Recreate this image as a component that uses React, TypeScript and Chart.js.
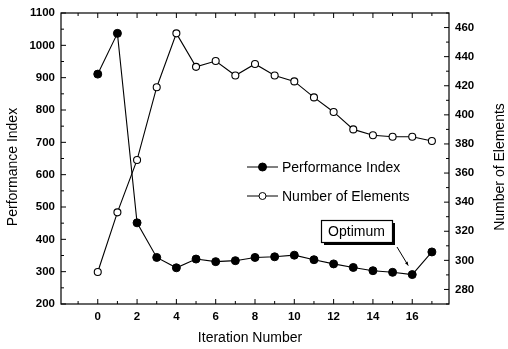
import React, { useEffect, useRef } from "react";
import { Chart, registerables } from "chart.js";

Chart.register(...registerables);

const iterations = [0, 1, 2, 3, 4, 5, 6, 7, 8, 9, 10, 11, 12, 13, 14, 15, 16, 17];
const performanceIndex = [911, 1037, 451, 344, 312, 339, 331, 334, 344, 346, 351, 337, 324, 313, 303, 298, 291, 361];
const numberOfElements = [292, 333, 369, 419, 456, 433, 437, 427, 435, 427, 423, 412, 402, 390, 386, 385, 385, 382];
const xTickValues = [0, 2, 4, 6, 8, 10, 12, 14, 16];
const xMinorValues = [-1, 1, 3, 5, 7, 9, 11, 13, 15, 17];
const leftTickValues = [200, 300, 400, 500, 600, 700, 800, 900, 1000, 1100];
const leftMinorValues = [250, 350, 450, 550, 650, 750, 850, 950, 1050];
const rightTickValues = [280, 300, 320, 340, 360, 380, 400, 420, 440, 460];
const rightMinorValues = [270, 290, 310, 330, 350, 370, 390, 410, 430, 450, 470];
const seriesNames = ["Performance Index", "Number of Elements"];
const axisTitles = { x: "Iteration Number", left: "Performance Index", right: "Number of Elements" };
const annotationText = "Optimum";
const optimumIndex = 16;

const FONT = "'Liberation Sans', Arial, Helvetica, sans-serif";

const framePlugin = {
  id: "frameAndExtras",
  afterDraw(chart: any) {
    const ctx = chart.ctx as CanvasRenderingContext2D;
    const { left, right, top, bottom } = chart.chartArea;
    const xs = chart.scales.x;
    const ys = chart.scales.y;
    const y2 = chart.scales.y2;
    ctx.save();
    ctx.strokeStyle = "#000";
    ctx.lineWidth = 1.2;
    ctx.strokeRect(left, top, right - left, bottom - top);
    const major = 5;
    const minor = 3;
    ctx.lineWidth = 1;
    ctx.beginPath();
    const hTick = (v: number, len: number) => {
      const px = xs.getPixelForValue(v);
      ctx.moveTo(px, bottom);
      ctx.lineTo(px, bottom - len);
      ctx.moveTo(px, top);
      ctx.lineTo(px, top + len);
    };
    xTickValues.forEach((v) => hTick(v, major));
    xMinorValues.forEach((v) => hTick(v, minor));
    leftTickValues.forEach((v) => {
      const py = ys.getPixelForValue(v);
      ctx.moveTo(left, py);
      ctx.lineTo(left + major, py);
    });
    leftMinorValues.forEach((v) => {
      const py = ys.getPixelForValue(v);
      ctx.moveTo(left, py);
      ctx.lineTo(left + minor, py);
    });
    rightTickValues.forEach((v) => {
      const py = y2.getPixelForValue(v);
      ctx.moveTo(right, py);
      ctx.lineTo(right - major, py);
    });
    rightMinorValues.forEach((v) => {
      const py = y2.getPixelForValue(v);
      ctx.moveTo(right, py);
      ctx.lineTo(right - minor, py);
    });
    ctx.stroke();

    // Axis titles
    ctx.fillStyle = "#000";
    ctx.font = `14px ${FONT}`;
    ctx.textAlign = "center";
    ctx.textBaseline = "middle";
    ctx.fillText(axisTitles.x, left + 189, 338);
    ctx.save();
    ctx.translate(13, top + 154);
    ctx.rotate(-Math.PI / 2);
    ctx.fillText(axisTitles.left, 0, 0);
    ctx.restore();
    ctx.save();
    ctx.translate(500, top + 154);
    ctx.rotate(-Math.PI / 2);
    ctx.fillText(axisTitles.right, 0, 0);
    ctx.restore();

    // Legend
    const lx0 = left + 186;
    const lx1 = left + 217;
    const lmx = (lx0 + lx1) / 2;
    const rows = [top + 154, top + 183];
    ctx.font = `14px ${FONT}`;
    ctx.textBaseline = "middle";
    ctx.textAlign = "left";
    rows.forEach((ry, i) => {
      ctx.beginPath();
      ctx.moveTo(lx0, ry);
      ctx.lineTo(lx1, ry);
      ctx.lineWidth = 1;
      ctx.stroke();
      ctx.beginPath();
      ctx.arc(lmx, ry, i === 0 ? 4 : 3.5, 0, Math.PI * 2);
      ctx.fillStyle = i === 0 ? "#000" : "#fff";
      ctx.fill();
      ctx.stroke();
      ctx.fillStyle = "#000";
      ctx.fillText(seriesNames[i], lx1 + 4, ry + 1);
    });

    // Annotation
    const bx = left + 260;
    const by = top + 207;
    const bw = 71;
    const bh = 22;
    ctx.fillStyle = "#000";
    ctx.fillRect(bx + 3, by + 3, bw, bh);
    ctx.fillStyle = "#fff";
    ctx.fillRect(bx, by, bw, bh);
    ctx.lineWidth = 1.2;
    ctx.strokeRect(bx + 0.5, by + 0.5, bw, bh);
    ctx.fillStyle = "#000";
    ctx.font = `14px ${FONT}`;
    ctx.textAlign = "center";
    ctx.fillText(annotationText, bx + bw / 2, by + bh / 2 + 1);
    const tx = xs.getPixelForValue(iterations[optimumIndex]) - 4;
    const ty = ys.getPixelForValue(performanceIndex[optimumIndex]) - 9;
    const sx = bx + bw + 5;
    const sy = by + bh + 5;
    ctx.lineWidth = 1;
    ctx.beginPath();
    ctx.moveTo(sx, sy);
    ctx.lineTo(tx, ty);
    ctx.stroke();
    const ang = Math.atan2(ty - sy, tx - sx);
    ctx.beginPath();
    ctx.moveTo(tx, ty);
    ctx.lineTo(tx - 4 * Math.cos(ang - 0.4), ty - 4 * Math.sin(ang - 0.4));
    ctx.lineTo(tx - 4 * Math.cos(ang + 0.4), ty - 4 * Math.sin(ang + 0.4));
    ctx.closePath();
    ctx.fill();
    ctx.restore();
  },
};

export default function App() {
  const canvasRef = useRef<HTMLCanvasElement | null>(null);

  useEffect(() => {
    if (!canvasRef.current) return;
    const tickFont = { family: FONT, size: 11.5, weight: "bold" as const };
    const plain = (v: any) => String(v);
    const chart = new Chart(canvasRef.current, {
      type: "line",
      data: {
        datasets: [
          {
            label: seriesNames[0],
            data: iterations.map((x, i) => ({ x, y: performanceIndex[i] })),
            yAxisID: "y",
            borderColor: "#000",
            borderWidth: 1.1,
            pointRadius: 4,
            pointBackgroundColor: "#000",
            pointBorderColor: "#000",
            pointBorderWidth: 1,
            tension: 0,
          },
          {
            label: seriesNames[1],
            data: iterations.map((x, i) => ({ x, y: numberOfElements[i] })),
            yAxisID: "y2",
            borderColor: "#000",
            borderWidth: 1.1,
            pointRadius: 3.5,
            pointBackgroundColor: "#fff",
            pointBorderColor: "#000",
            pointBorderWidth: 1.1,
            tension: 0,
          },
        ],
      },
      options: {
        animation: false,
        responsive: false,
        layout: { padding: { top: 13, left: 0, right: 0, bottom: 0 } },
        plugins: { legend: { display: false }, tooltip: { enabled: false } },
        scales: {
          x: {
            type: "linear",
            min: -1.87,
            max: 17.87,
            grid: { display: false, drawTicks: false },
            border: { display: false },
            afterBuildTicks: (s: any) => {
              s.ticks = xTickValues.map((value) => ({ value }));
            },
            afterFit: (s: any) => {
              s.height = 45;
            },
            ticks: { font: tickFont, color: "#000", padding: 6, maxRotation: 0, autoSkip: false, callback: plain },
            title: { display: false, text: axisTitles.x },
          },
          y: {
            type: "linear",
            position: "left",
            min: 200,
            max: 1100,
            grid: { display: false, drawTicks: false },
            border: { display: false },
            afterBuildTicks: (s: any) => {
              s.ticks = leftTickValues.map((value) => ({ value }));
            },
            afterFit: (s: any) => {
              s.width = 61;
            },
            ticks: { font: tickFont, color: "#000", padding: 6, autoSkip: false, callback: plain },
            title: { display: false, text: axisTitles.left },
          },
          y2: {
            type: "linear",
            position: "right",
            min: 270,
            max: 470,
            grid: { display: false, drawTicks: false },
            border: { display: false },
            afterBuildTicks: (s: any) => {
              s.ticks = rightTickValues.map((value) => ({ value }));
            },
            afterFit: (s: any) => {
              s.width = 59;
            },
            ticks: { font: tickFont, color: "#000", padding: 6, autoSkip: false, callback: plain },
            title: { display: false, text: axisTitles.right },
          },
        },
      },
      plugins: [framePlugin],
    });
    return () => chart.destroy();
  }, []);

  return (
    <div style={{ position: "fixed", left: 0, top: 0, width: 508, height: 349, background: "#fff" }}>
      <canvas ref={canvasRef} width={508} height={349} />
    </div>
  );
}
